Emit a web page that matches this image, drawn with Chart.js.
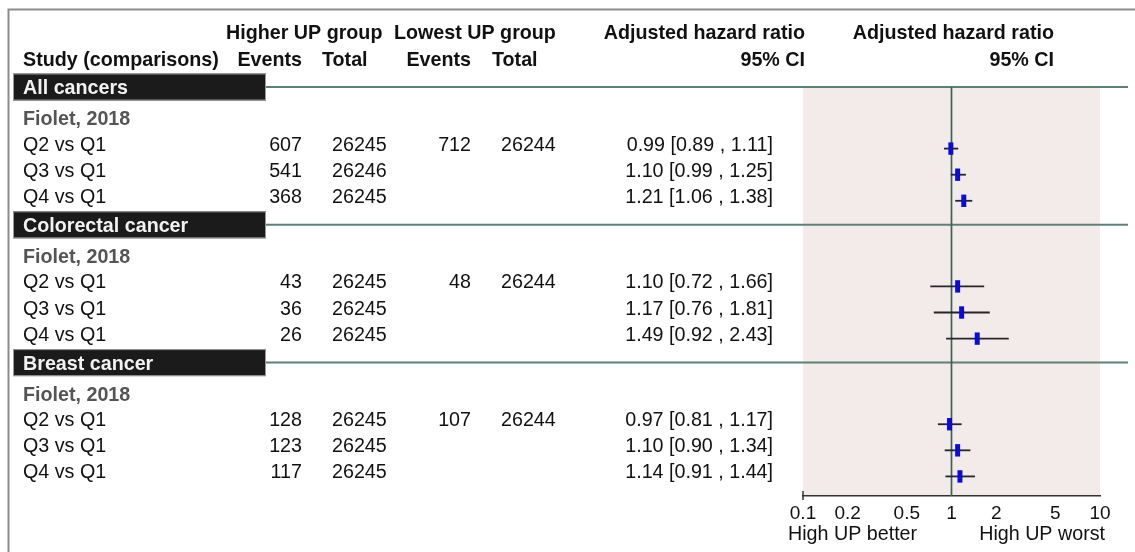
<!DOCTYPE html>
<html>
<head>
<meta charset="utf-8">
<script src="https://cdn.jsdelivr.net/npm/chart.js@4/dist/chart.umd.min.js"></script>
<style>
  html, body { margin: 0; padding: 0; background: #fff; }
  #wrap { width: 1135px; height: 552px; }
</style>
</head>
<body>
<div id="wrap"><canvas id="forest" width="1135" height="552"></canvas></div>
<script>
// ---- data ----
const sections = ['All cancers', 'Colorectal cancer', 'Breast cancer'];
const studies = ['Fiolet, 2018', 'Fiolet, 2018', 'Fiolet, 2018'];
const comparisons = ['Q2 vs Q1', 'Q3 vs Q1', 'Q4 vs Q1'];
const highEvents = [[607, 541, 368], [43, 36, 26], [128, 123, 117]];
const highTotal = [[26245, 26246, 26245], [26245, 26245, 26245], [26245, 26245, 26245]];
const lowEvents = [712, 48, 107];
const lowTotal = [26244, 26244, 26244];
const hazardRatio = [[0.99, 1.10, 1.21], [1.10, 1.17, 1.49], [0.97, 1.10, 1.14]];
const ciLower = [[0.89, 0.99, 1.06], [0.72, 0.76, 0.92], [0.81, 0.90, 0.91]];
const ciUpper = [[1.11, 1.25, 1.38], [1.66, 1.81, 2.43], [1.17, 1.34, 1.44]];
const xTickValues = [0.1, 0.2, 0.5, 1, 2, 5, 10];
const xTickLabels = ['0.1', '0.2', '0.5', '1', '2', '5', '10'];
const axisLeftLabel = 'High UP better';
const axisRightLabel = 'High UP worst';

// ---- layout (row units) ----
const SECTION_STEP = 5.28;   // distance between section header lines
const STUDY_OFFSET = 1.38;   // study name below the section line
const ROW_OFFSET = 2.36;     // first comparison row below the section line
const Y_MAX = 15.67;

const FONT = '"Liberation Sans", Arial, Helvetica, sans-serif';
const FS = 19.7;

function sectionY(s) { return s * SECTION_STEP; }
function rowY(s, k) { return s * SECTION_STEP + ROW_OFFSET + k; }

// datasets: point estimates, whiskers, reference line
const estimatePoints = [];
const whiskerSets = [];
sections.forEach((_, s) => {
  comparisons.forEach((__, k) => {
    const y = rowY(s, k);
    estimatePoints.push({ x: hazardRatio[s][k], y });
    whiskerSets.push({
      type: 'scatter',
      showLine: true,
      data: [{ x: ciLower[s][k], y }, { x: ciUpper[s][k], y }],
      borderColor: '#262626',
      borderWidth: 1.8,
      pointRadius: 0,
      pointHoverRadius: 0
    });
  });
});

const datasets = [
  {
    type: 'scatter',
    data: estimatePoints,
    pointStyle: 'line',
    rotation: 90,
    pointRadius: 6.2,
    pointHoverRadius: 6.2,
    borderWidth: 5,
    borderColor: '#0b0bd6',
    backgroundColor: '#0b0bd6'
  },
  ...whiskerSets,
  {
    type: 'scatter',
    showLine: true,
    data: [{ x: 1, y: 0 }, { x: 1, y: Y_MAX }],
    borderColor: '#3f5f58',
    borderWidth: 1.7,
    pointRadius: 0,
    pointHoverRadius: 0
  }
];

function text(ctx, str, x, y, align, weight, color) {
  ctx.font = (weight || 'normal') + ' ' + FS + 'px ' + FONT;
  ctx.textAlign = align || 'left';
  ctx.textBaseline = 'alphabetic';
  ctx.fillStyle = color || '#111';
  ctx.fillText(str, x, y);
}

const tablePlugin = {
  id: 'forestTable',
  beforeDraw(chart) {
    const { ctx, chartArea } = chart;
    ctx.save();
    ctx.fillStyle = '#ffffff';
    ctx.fillRect(0, 0, chart.width, chart.height);
    // frame (top and left edges)
    ctx.strokeStyle = '#8c8c8c';
    ctx.lineWidth = 2;
    ctx.beginPath();
    ctx.moveTo(8.5, chart.height);
    ctx.lineTo(8.5, 9.5);
    ctx.lineTo(chart.width, 9.5);
    ctx.stroke();
    // shaded plotting region
    ctx.fillStyle = '#f3eaea';
    ctx.fillRect(chartArea.left, chartArea.top, chartArea.right - chartArea.left, chartArea.bottom - chartArea.top);
    ctx.restore();
  },
  beforeDatasetsDraw(chart) {
    const { ctx } = chart;
    const ys = chart.scales.y;
    const xs = chart.scales.x;
    ctx.save();

    // column headings
    const h1 = 38.5, h2 = 66;
    text(ctx, 'Higher UP group', 226, h1, 'left', 'bold');
    text(ctx, 'Lowest UP group', 394, h1, 'left', 'bold');
    text(ctx, 'Adjusted hazard ratio', 805, h1, 'right', 'bold');
    text(ctx, 'Adjusted hazard ratio', 1054, h1, 'right', 'bold');
    text(ctx, 'Study (comparisons)', 23, h2, 'left', 'bold');
    text(ctx, 'Events', 302, h2, 'right', 'bold');
    text(ctx, 'Total', 322, h2, 'left', 'bold');
    text(ctx, 'Events', 471, h2, 'right', 'bold');
    text(ctx, 'Total', 492, h2, 'left', 'bold');
    text(ctx, '95% CI', 805, h2, 'right', 'bold');
    text(ctx, '95% CI', 1054, h2, 'right', 'bold');

    sections.forEach((name, s) => {
      const ly = ys.getPixelForValue(sectionY(s));
      // separator line
      ctx.strokeStyle = '#5f7f79';
      ctx.lineWidth = 2;
      ctx.beginPath();
      ctx.moveTo(266, ly);
      ctx.lineTo(1128, ly);
      ctx.stroke();
      // section label box
      ctx.fillStyle = '#1b1b1b';
      ctx.fillRect(13, ly - 13.5, 253, 27);
      ctx.strokeStyle = '#9a9a9a';
      ctx.lineWidth = 1;
      ctx.strokeRect(13.5, ly - 13, 252, 26);
      text(ctx, name, 23, ly + 7, 'left', 'bold', '#f2f2f2');

      // study name
      const sy = ys.getPixelForValue(s * SECTION_STEP + STUDY_OFFSET);
      text(ctx, studies[s], 23, sy + 2, 'left', 'bold', '#555555');

      comparisons.forEach((cmp, k) => {
        const by = ys.getPixelForValue(rowY(s, k)) + 2;
        text(ctx, cmp, 23, by, 'left');
        text(ctx, String(highEvents[s][k]), 302, by, 'right');
        text(ctx, String(highTotal[s][k]), 332, by, 'left');
        if (k === 0) {
          text(ctx, String(lowEvents[s]), 471, by, 'right');
          text(ctx, String(lowTotal[s]), 501, by, 'left');
        }
        const ci = hazardRatio[s][k].toFixed(2) + ' [' + ciLower[s][k].toFixed(2) + ' , ' + ciUpper[s][k].toFixed(2) + ']';
        text(ctx, ci, 773, by, 'right');
      });
    });

    // axis end tick and direction captions
    const x0 = xs.getPixelForValue(xTickValues[0]);
    const axisY = chart.chartArea.bottom;
    ctx.strokeStyle = '#333';
    ctx.lineWidth = 1.5;
    ctx.beginPath();
    ctx.moveTo(x0, axisY - 5);
    ctx.lineTo(x0, axisY + 4);
    ctx.stroke();
    text(ctx, axisLeftLabel, 788, 540, 'left');
    text(ctx, axisRightLabel, 1105, 540, 'right');
    ctx.restore();
  }
};

new Chart(document.getElementById('forest'), {
  type: 'scatter',
  data: { datasets },
  options: {
    responsive: false,
    animation: false,
    devicePixelRatio: 1,
    layout: { padding: { left: 803, right: 35, top: 87, bottom: 0 } },
    plugins: { legend: { display: false }, tooltip: { enabled: false } },
    scales: {
      x: {
        type: 'logarithmic',
        position: 'bottom',
        min: 0.1,
        max: 10,
        afterBuildTicks(scale) { scale.ticks = xTickValues.map(v => ({ value: v })); },
        afterFit(scale) { scale.height = 56; },
        grid: { display: false },
        border: { display: true, color: '#333', width: 1.5 },
        ticks: {
          autoSkip: false,
          maxRotation: 0,
          padding: -2,
          color: '#111',
          font: { family: FONT, size: 19 },
          callback(value) {
            const i = xTickValues.indexOf(value);
            return i >= 0 ? xTickLabels[i] : '';
          }
        }
      },
      y: {
        type: 'linear',
        min: 0,
        max: Y_MAX,
        reverse: true,
        display: false
      }
    }
  },
  plugins: [tablePlugin]
});
</script>
</body>
</html>
